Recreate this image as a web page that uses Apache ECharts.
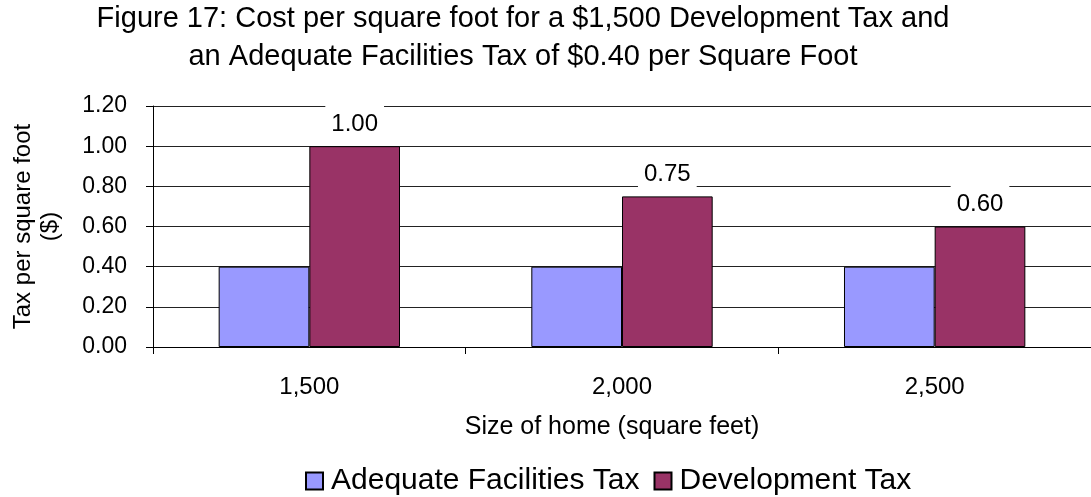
<!DOCTYPE html>
<html>
<head>
<meta charset="utf-8">
<script src="https://cdn.jsdelivr.net/npm/echarts@6/dist/echarts.min.js"></script>
<style>
html,body{margin:0;padding:0;background:#fff;}
#chart{width:1091px;height:497px;}
</style>
</head>
<body>
<div id="chart"></div>
<script>
const categories = ['1,500', '2,000', '2,500'];
const adequateFacilitiesTax = [0.40, 0.40, 0.40];
const developmentTax = [1.00, 0.75, 0.60];
const seriesNames = ['Adequate Facilities Tax', 'Development Tax'];
const titleText = 'Figure 17: Cost per square foot for a $1,500 Development Tax and\nan Adequate Facilities Tax of $0.40 per Square Foot';
const xAxisName = 'Size of home (square feet)';
const yAxisName = 'Tax per square foot\n($)';

const FONT = '"Liberation Sans", Arial, sans-serif';
const chart = echarts.init(document.getElementById('chart'), null, {renderer: 'canvas'});
chart.setOption({
  animation: false,
  backgroundColor: '#ffffff',
  textStyle: {fontFamily: FONT, color: '#000'},
  title: {
    text: titleText,
    left: 523,
    top: 0,
    padding: 0,
    textAlign: 'center',
    textStyle: {fontFamily: FONT, fontSize: 29, fontWeight: 'normal', color: '#000', lineHeight: 38}
  },
  legend: {
    left: 305,
    top: 466,
    padding: 0,
    itemWidth: 17,
    itemHeight: 17,
    itemGap: 14,
    icon: 'rect',
    textStyle: {fontFamily: FONT, fontSize: 30, color: '#000', padding: [0, 0, 0, 3]},
    data: seriesNames
  },
  grid: {left: 153, right: -7, top: 106, bottom: 150, containLabel: false},
  xAxis: {
    type: 'category',
    data: categories,
    name: xAxisName,
    nameLocation: 'middle',
    nameGap: 68,
    nameTextStyle: {fontFamily: FONT, fontSize: 25, color: '#000', padding: [0, 20, 0, 0]},
    axisLine: {lineStyle: {color: '#000', width: 1}},
    axisTick: {show: true, length: 7, lineStyle: {color: '#000'}},
    axisLabel: {fontFamily: FONT, fontSize: 24, color: '#000', margin: 28}
  },
  yAxis: {
    type: 'value',
    min: 0,
    max: 1.2,
    interval: 0.2,
    name: yAxisName,
    nameLocation: 'middle',
    nameGap: 89,
    nameTextStyle: {fontFamily: FONT, fontSize: 24, color: '#000', lineHeight: 27, align: 'center'},
    axisLine: {show: true, lineStyle: {color: '#000', width: 1}},
    axisTick: {show: true, length: 7, lineStyle: {color: '#000'}},
    axisLabel: {fontFamily: FONT, fontSize: 23, color: '#000', margin: 26, formatter: v => v.toFixed(2)},
    splitLine: {show: true, lineStyle: {color: '#222', width: 1}}
  },
  series: [
    {
      name: seriesNames[0],
      type: 'bar',
      data: adequateFacilitiesTax,
      barGap: '0%',
      barCategoryGap: '42%',
      itemStyle: {color: '#9999FF', borderColor: '#000', borderWidth: 1}
    },
    {
      name: seriesNames[1],
      type: 'bar',
      data: developmentTax,
      barGap: '0%',
      barCategoryGap: '42%',
      itemStyle: {color: '#993366', borderColor: '#000', borderWidth: 1},
      label: {
        show: true,
        position: 'top',
        distance: 1,
        formatter: p => p.value.toFixed(2),
        fontFamily: FONT,
        fontSize: 24,
        color: '#000',
        backgroundColor: '#fff',
        padding: [9, 6, 9, 6]
      }
    }
  ]
});
</script>
</body>
</html>
